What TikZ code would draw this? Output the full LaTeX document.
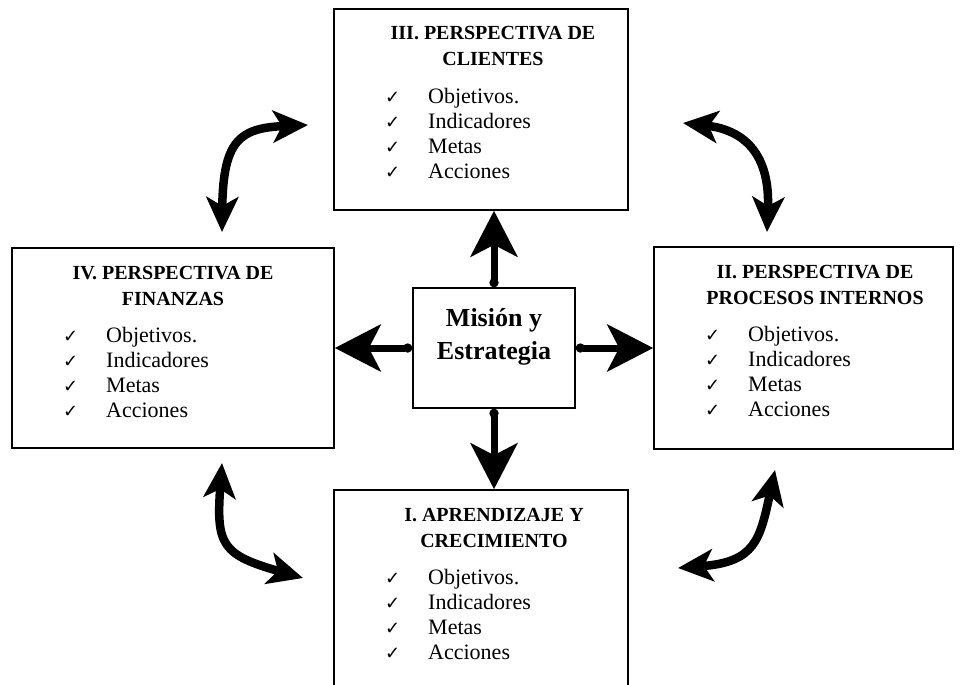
\documentclass[tikz,border=0pt]{standalone}
\usepackage{fontspec}
\setmainfont{Liberation Serif}
\newfontfamily\symfont{DejaVu Sans}
\usetikzlibrary{arrows.meta,fit,calc}
\newcommand\perspbox[8]{%
  \node[pbox, fit={(#2,#3)(#4,#5)}] (#1) {};
  \node[ttl] (#1-t1) at (#6,#3+31) {#7};
  \node[ttl] (#1-t2) at (#6,#3+57) {#8};
  \foreach \w [count=\i] in {Objetivos.,Indicadores,Metas,Acciones}{
    \node[chk] (#1-c\i) at (#2+51,#3+69+25*\i) {✓};
    \node[itm] (#1-i\i) at (#2+94,#3+69+25*\i) {\w};
  }}
\begin{document}
\begin{tikzpicture}[x=1pt,y=-1pt,
  pbox/.style={draw, line width=1.6pt, inner sep=0pt},
  ttl/.style={font=\bfseries\fontsize{20}{24}\selectfont, anchor=base, inner sep=0pt},
  ctr/.style={font=\bfseries\fontsize{26}{30}\selectfont, anchor=base, inner sep=0pt},
  itm/.style={font=\fontsize{22}{25}\selectfont, anchor=base west, inner sep=0pt},
  chk/.style={font=\symfont\fontsize{18}{20}\selectfont, anchor=base west, inner sep=0pt},
  bigarrow/.style={line width=7pt, {Circle[length=9pt]}-{Stealth[length=46pt,width=47pt,inset=12pt]}},
  curvarrow/.style={line width=8.5pt, {Stealth[length=35pt,width=32pt,inset=9pt]}-{Stealth[length=35pt,width=32pt,inset=9pt]}}]
\useasboundingbox (0,0) rectangle (964,685);
\clip (0,0) rectangle (964,685);
\fill[white] (0,0) rectangle (964,685);

\perspbox{top}{334}{9}{628}{210}{493}{III. PERSPECTIVA DE}{CLIENTES}
\perspbox{left}{12}{248}{334}{448}{173}{IV. PERSPECTIVA DE}{FINANZAS}
\perspbox{right}{654}{247}{953}{449}{815}{II. PERSPECTIVA DE}{PROCESOS INTERNOS}
\perspbox{bot}{334}{490}{628}{700}{494}{I. APRENDIZAJE Y}{CRECIMIENTO}

\node[pbox, fit={(413,288)(575,408)}] (mis) {};
\node[ctr] (mis-1) at (494,326) {Misión y};
\node[ctr] (mis-2) at (494,359) {Estrategia};

\draw[bigarrow] (mis.north) -- (mis.north |- top.south);
\draw[bigarrow] (mis.south) -- (mis.south |- bot.north);
\draw[bigarrow] (mis.west) -- (mis.west -| left.east);
\draw[bigarrow] (mis.east) -- (mis.east -| right.west);

\coordinate (a1) at (222,232);
\coordinate (b1) at (308,125);
\coordinate (a2) at (683,123);
\coordinate (b2) at (767,232);
\coordinate (a3) at (222,463);
\coordinate (b3) at (303,578);
\coordinate (a4) at (678,568);
\coordinate (b4) at (775,470);
\draw[curvarrow] (a1) .. controls (223,140) and (240,128) .. (b1);
\draw[curvarrow] (a2) .. controls (745,130) and (770,155) .. (b2);
\draw[curvarrow] (a3) .. controls (216,545) and (222,555) .. (b3);
\draw[curvarrow] (a4) .. controls (755,562) and (760,540) .. (b4);
\end{tikzpicture}
\end{document}
